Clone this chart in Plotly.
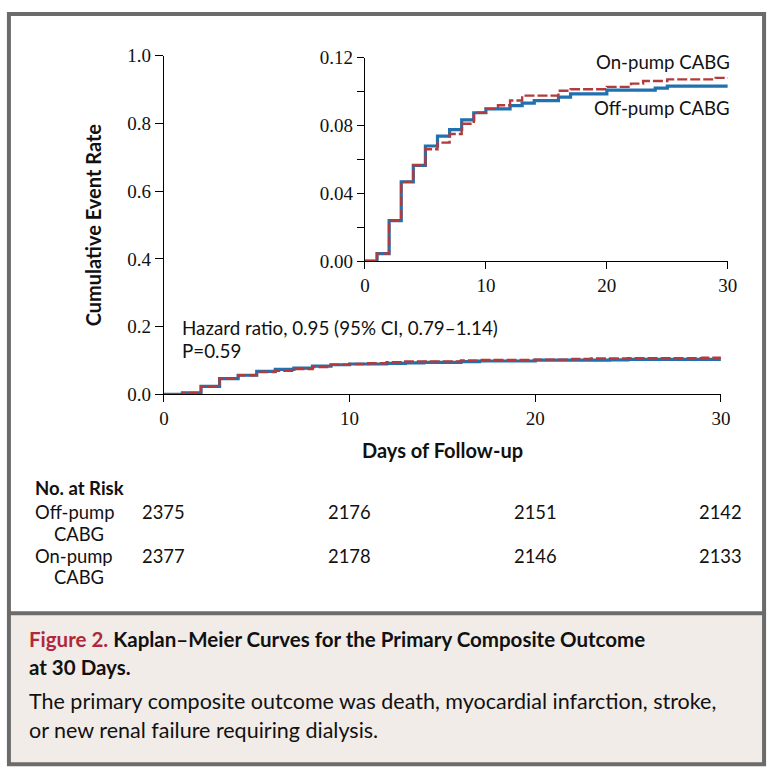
import plotly.graph_objects as go

# ---- data ----
off_days = [0, 1, 2, 3, 4, 5, 6, 7, 8, 9, 10, 12, 13, 14, 16, 17, 20, 24, 25, 30]
off_rate = [0, 0.0044, 0.0239, 0.0467, 0.0565, 0.0679, 0.0737, 0.0775, 0.0833, 0.0875,
            0.0898, 0.0917, 0.0932, 0.0947, 0.0967, 0.0986, 0.1009, 0.1020, 0.1032, 0.1032]
on_days = [0, 1, 2, 3, 4, 5, 6, 7, 8, 9, 10, 11, 12, 13, 16, 17, 20, 22, 23, 25, 29, 30]
on_rate = [0, 0.0044, 0.0239, 0.0467, 0.0565, 0.0660, 0.0699, 0.0750, 0.0810, 0.0875,
           0.0898, 0.0919, 0.0947, 0.0976, 0.1005, 0.1014, 0.1028, 0.1047, 0.1062, 0.1072,
           0.1081, 0.1083]
risk_days = [0, 10, 20, 30]
risk_off = [2375, 2176, 2151, 2142]
risk_on = [2377, 2178, 2146, 2133]
main_yticks = [0.0, 0.2, 0.4, 0.6, 0.8, 1.0]
inset_yticks = [0.00, 0.02, 0.04, 0.06, 0.08, 0.10, 0.12]
inset_ylabels = ["0.00", "", "0.04", "", "0.08", "", "0.12"]
xticks = [0, 10, 20, 30]

W, H = 778, 782
BLUE = "#2170af"
RED = "#b23b3b"
SANS = "Lato"
SERIF = "Liberation Serif"


def px(x):
    return x / W


def py(y):
    return 1 - y / H


fig = go.Figure()

for xa, ya in [("x", "y"), ("x2", "y2")]:
    fig.add_trace(go.Scatter(x=off_days, y=off_rate, mode="lines", line_shape="hv",
                             line=dict(color=BLUE, width=3.2), xaxis=xa, yaxis=ya,
                             showlegend=False, hoverinfo="skip"))
    fig.add_trace(go.Scatter(x=on_days, y=on_rate, mode="lines", line_shape="hv",
                             line=dict(color=RED, width=2.4, dash="10px,3px"), xaxis=xa, yaxis=ya,
                             showlegend=False, hoverinfo="skip"))

axis_common = dict(showgrid=False, zeroline=False, showline=True, linecolor="black",
                   linewidth=1, ticks="outside", tickcolor="black", tickwidth=1)

fig.update_layout(
    width=W, height=H,
    margin=dict(l=0, r=0, t=0, b=0),
    paper_bgcolor="white", plot_bgcolor="rgba(0,0,0,0)",
    xaxis=dict(domain=[px(162), px(730)], range=[0, 30], tickvals=xticks,
               ticktext=[str(v) for v in xticks], anchor="y", ticklen=7,
               tickfont=dict(family=SERIF, size=19, color="#111"), **axis_common),
    yaxis=dict(domain=[py(395), py(47)], range=[0, 1.0], tickvals=main_yticks,
               ticktext=[f"{v:.1f}" for v in main_yticks], anchor="x", ticklen=8,
               tickfont=dict(family=SERIF, size=19, color="#111"), **axis_common),
    xaxis2=dict(domain=[px(367), px(737)], range=[0, 30], tickvals=xticks,
                ticktext=[str(v) for v in xticks], anchor="y2", ticklen=7,
                tickfont=dict(family=SERIF, size=19, color="#111"), **axis_common),
    yaxis2=dict(domain=[py(258), py(49)], range=[0, 0.12],
                tickvals=inset_yticks, ticktext=inset_ylabels, anchor="x2", ticklen=7,
                tickfont=dict(family=SERIF, size=19, color="#111"), **axis_common),
)

ann = []


def text(x, y, s, size=18, color="#111", xanchor="left", family=SANS, xref="paper", **kw):
    ann.append(dict(x=x, y=y, xref=xref, yref="paper", text=s, showarrow=False,
                    xanchor=xanchor, yanchor="middle",
                    font=dict(family=family, size=size, color=color), **kw))


text(px(90), py(221), "<b>Cumulative Event Rate</b>", size=20, xanchor="center", textangle=-90)
text(px(446), py(452), "<b>Days of Follow-up</b>", size=20, xanchor="center")
text(px(741), py(53), "On-pump CABG", size=18.6, xanchor="right")
text(px(741), py(101), "Off-pump CABG", size=18.6, xanchor="right")
text(px(178), py(326), "Hazard ratio, 0.95 (95% CI, 0.79–1.14)", size=18.8)
text(px(178), py(350), "P=0.59", size=18.8)

text(px(29), py(491), "<b>No. at Risk</b>", size=18.5)
text(px(29), py(516), "Off-pump", size=18.4)
text(px(48), py(538), "CABG", size=18.4)
text(px(29), py(561), "On-pump", size=18.4)
text(px(48), py(583), "CABG", size=18.4)
for d, a, b in zip(risk_days, risk_off, risk_on):
    text(d, py(516), str(a), size=18.4, xanchor="center", xref="x")
    text(d, py(561), str(b), size=18.4, xanchor="center", xref="x")

text(px(22), py(646), "<b><span style='color:#b0283a'>Figure 2.</span> Kaplan–Meier Curves for the Primary Composite Outcome</b>", size=20.5)
text(px(22), py(675), "<b>at 30 Days.</b>", size=20.5)
text(px(22), py(710), "The primary composite outcome was death, myocardial infarction, stroke,", size=21.5)
text(px(22), py(740), "or new renal failure requiring dialysis.", size=21.5)

fig.update_layout(annotations=ann)

GRAY = "#6b6b6b"
fig.update_layout(shapes=[
    dict(type="rect", xref="paper", yref="paper", x0=px(4), x1=px(774), y0=py(775), y1=py(620),
         fillcolor="#f1ece8", line=dict(width=0), layer="below"),
    dict(type="rect", xref="paper", yref="paper", x0=px(4), x1=px(774), y0=py(775), y1=py(4),
         line=dict(color=GRAY, width=4), fillcolor="rgba(0,0,0,0)"),
    dict(type="line", xref="paper", yref="paper", x0=px(4), x1=px(774), y0=py(620), y1=py(620),
         line=dict(color=GRAY, width=4)),
])

fig.write_html("out.html", config={"displayModeBar": False, "staticPlot": True},
               post_script="document.body.style.margin='0';document.body.style.overflow='hidden';")
